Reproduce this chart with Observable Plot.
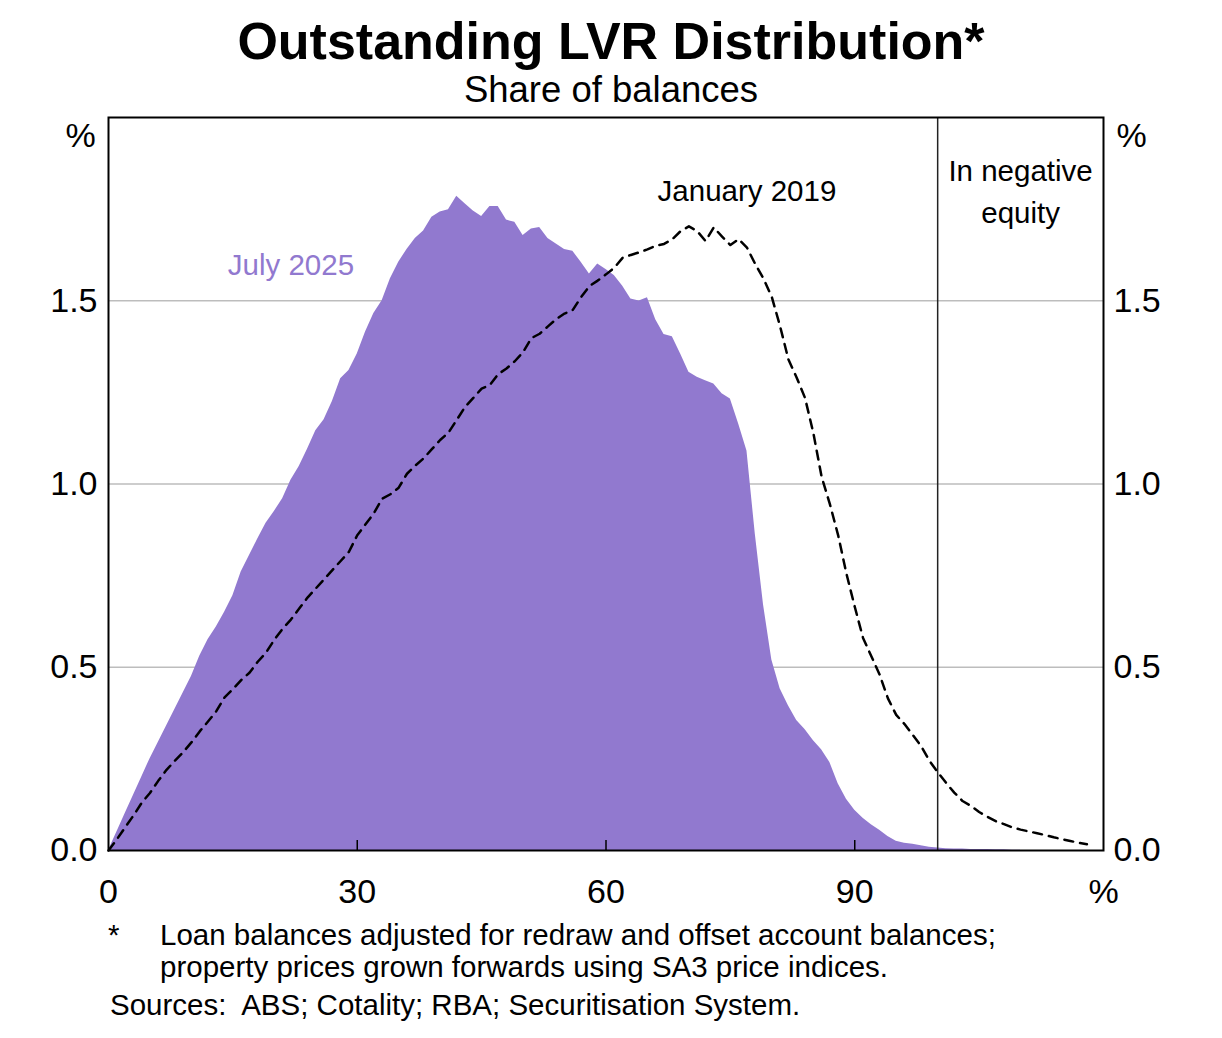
<!DOCTYPE html>
<html>
<head>
<meta charset="utf-8">
<script src="https://cdn.jsdelivr.net/npm/d3@7"></script>
<script src="https://cdn.jsdelivr.net/npm/@observablehq/plot@0.6"></script>
<style>
  html, body { margin: 0; padding: 0; background: #fff; }
  #wrap { position: relative; width: 1222px; height: 1038px; font-family: "Liberation Sans", Arial, Helvetica, sans-serif; color: #000; }
  .t { position: absolute; white-space: nowrap; }
  #title { left: 0; width: 1222px; text-align: center; top: 15px; font-size: 52px; line-height: 52px; font-weight: bold; }
  #subtitle { left: 0; width: 1222px; text-align: center; top: 72px; font-size: 36.5px; line-height: 36.5px; }
  .fn { font-size: 29.5px; line-height: 29.5px; }
  #chart { position: absolute; left: 0; top: 0; }
</style>
</head>
<body>
<div id="wrap">
  <div id="chart"></div>
  <div class="t" id="title">Outstanding LVR Distribution*</div>
  <div class="t" id="subtitle">Share of balances</div>
  <div class="t fn" style="left:108px; top:920px;">*</div>
  <div class="t fn" style="left:160px; top:920px;">Loan balances adjusted for redraw and offset account balances;</div>
  <div class="t fn" style="left:160px; top:952px;">property prices grown forwards using SA3 price indices.</div>
  <div class="t fn" style="left:110px; top:990px;">Sources:&nbsp; ABS; Cotality; RBA; Securitisation System.</div>
</div>
<script>
// Share of balances (%) by LVR bucket (index = LVR, %)
const july2025 = [
  0, 0.05, 0.10, 0.15, 0.20, 0.25, 0.295, 0.34, 0.385, 0.43,
  0.475, 0.53, 0.575, 0.61, 0.65, 0.695, 0.76, 0.805, 0.85, 0.893,
  0.925, 0.96, 1.01, 1.048, 1.095, 1.145, 1.175, 1.225, 1.287, 1.31,
  1.355, 1.415, 1.465, 1.50, 1.56, 1.605, 1.64, 1.67, 1.69, 1.728,
  1.742, 1.748, 1.785, 1.765, 1.745, 1.73, 1.757, 1.757, 1.72, 1.714,
  1.678, 1.696, 1.70, 1.67, 1.655, 1.64, 1.635, 1.605, 1.573, 1.60,
  1.585, 1.569, 1.54, 1.505, 1.499, 1.508, 1.448, 1.408, 1.402, 1.355,
  1.305, 1.291, 1.282, 1.273, 1.246, 1.232, 1.164, 1.09, 0.864, 0.67,
  0.52, 0.441, 0.395, 0.355, 0.33, 0.30, 0.275, 0.24, 0.182, 0.14,
  0.11, 0.088, 0.07, 0.055, 0.038, 0.025, 0.02, 0.017, 0.013, 0.009,
  0.007, 0.005, 0.004, 0.004, 0.003, 0.003, 0.003, 0.002, 0.002, 0.001,
  0.001
];
const jan2019 = [
  0, 0.03, 0.063, 0.095, 0.13, 0.157, 0.19, 0.22, 0.245, 0.268,
  0.295, 0.325, 0.352, 0.38, 0.418, 0.44, 0.465, 0.485, 0.515, 0.54,
  0.575, 0.605, 0.63, 0.66, 0.69, 0.715, 0.74, 0.765, 0.79, 0.815,
  0.86, 0.89, 0.92, 0.96, 0.972, 0.99, 1.028, 1.05, 1.07, 1.095,
  1.12, 1.14, 1.175, 1.21, 1.235, 1.26, 1.27, 1.30, 1.315, 1.335,
  1.36, 1.398, 1.41, 1.43, 1.45, 1.465, 1.475, 1.51, 1.54, 1.555,
  1.572, 1.59, 1.617, 1.625, 1.632, 1.64, 1.65, 1.655, 1.668, 1.69,
  1.703, 1.69, 1.663, 1.70, 1.675, 1.652, 1.668, 1.645, 1.60, 1.56,
  1.51, 1.43, 1.34, 1.29, 1.235, 1.14, 1.02, 0.945, 0.86, 0.755,
  0.665, 0.58, 0.53, 0.48, 0.415, 0.37, 0.345, 0.315, 0.285, 0.245,
  0.214, 0.185, 0.158, 0.135, 0.122, 0.105, 0.092, 0.08, 0.072, 0.063,
  0.057, 0.052, 0.047, 0.042, 0.036, 0.031, 0.026, 0.021, 0.017
];
const xTicks = [0, 30, 60, 90, 120];
const xTickMarks = [30, 60, 90];
const yTicks = [0, 0.5, 1, 1.5];
const negativeEquityLVR = [100];
const labels = [
  {x: 22, y: 1.608, text: "July 2025", color: "#9179CF"},
  {x: 77, y: 1.81, text: "January 2019", color: "#000"},
  {x: 110, y: 1.806, text: "In negative\nequity", color: "#000"}
];

const julyData = july2025.map((v, i) => ({lvr: i, share: v}));
const janData = jan2019.map((v, i) => ({lvr: i, share: v}));

const purple = "#9179CF";
const font = "Liberation Sans, Arial, Helvetica, sans-serif";
const tickLen = 10 / 366.5; // inner tick length in y units (10px)

const chart = Plot.plot({
  width: 1222,
  height: 930,
  marginTop: 117,
  marginLeft: 108,
  marginRight: 119,
  marginBottom: 80,
  style: {fontFamily: font, fontSize: "34px", color: "#000", background: "transparent"},
  x: {domain: [0, 120]},
  y: {domain: [0, 2]},
  marks: [
    Plot.gridY(yTicks.filter(d => d > 0), {stroke: "#bdbdbd", strokeOpacity: 1, strokeWidth: 1.5}),
    Plot.areaY(julyData, {x: "lvr", y: "share", fill: purple, curve: "linear"}),
    Plot.lineY(janData, {x: "lvr", y: "share", stroke: "#000", strokeWidth: 2.5, strokeDasharray: "9,7", curve: "linear"}),
    Plot.ruleX(negativeEquityLVR, {stroke: "#222", strokeWidth: 1.5}),
    Plot.ruleX(xTickMarks, {y1: 0, y2: tickLen, stroke: "#000", strokeWidth: 1.5}),
    Plot.frame({stroke: "#000", strokeWidth: 2}),
    Plot.axisX({ticks: xTicks, tickSize: 0, tickPadding: 28, fontSize: 34, tickFormat: d => d === 120 ? "%" : String(d), label: null}),
    Plot.axisY({anchor: "left", ticks: yTicks, tickSize: 0, tickPadding: 11, fontSize: 34, tickFormat: d3.format(".1f"), label: null}),
    Plot.axisY({anchor: "right", ticks: yTicks, tickSize: 0, tickPadding: 10, fontSize: 34, tickFormat: d3.format(".1f"), label: null}),
    Plot.text(["%"], {frameAnchor: "top-left", dx: -28, dy: 5, fontSize: 34, textAnchor: "middle"}),
    Plot.text(["%"], {frameAnchor: "top-right", dx: 28, dy: 5, fontSize: 34, textAnchor: "middle"}),
    Plot.text(labels, {x: "x", y: "y", text: "text", fill: "color", fontSize: 29.5, lineHeight: 1.42, textAnchor: "middle"})
  ]
});
document.getElementById("chart").appendChild(chart);
</script>
</body>
</html>
